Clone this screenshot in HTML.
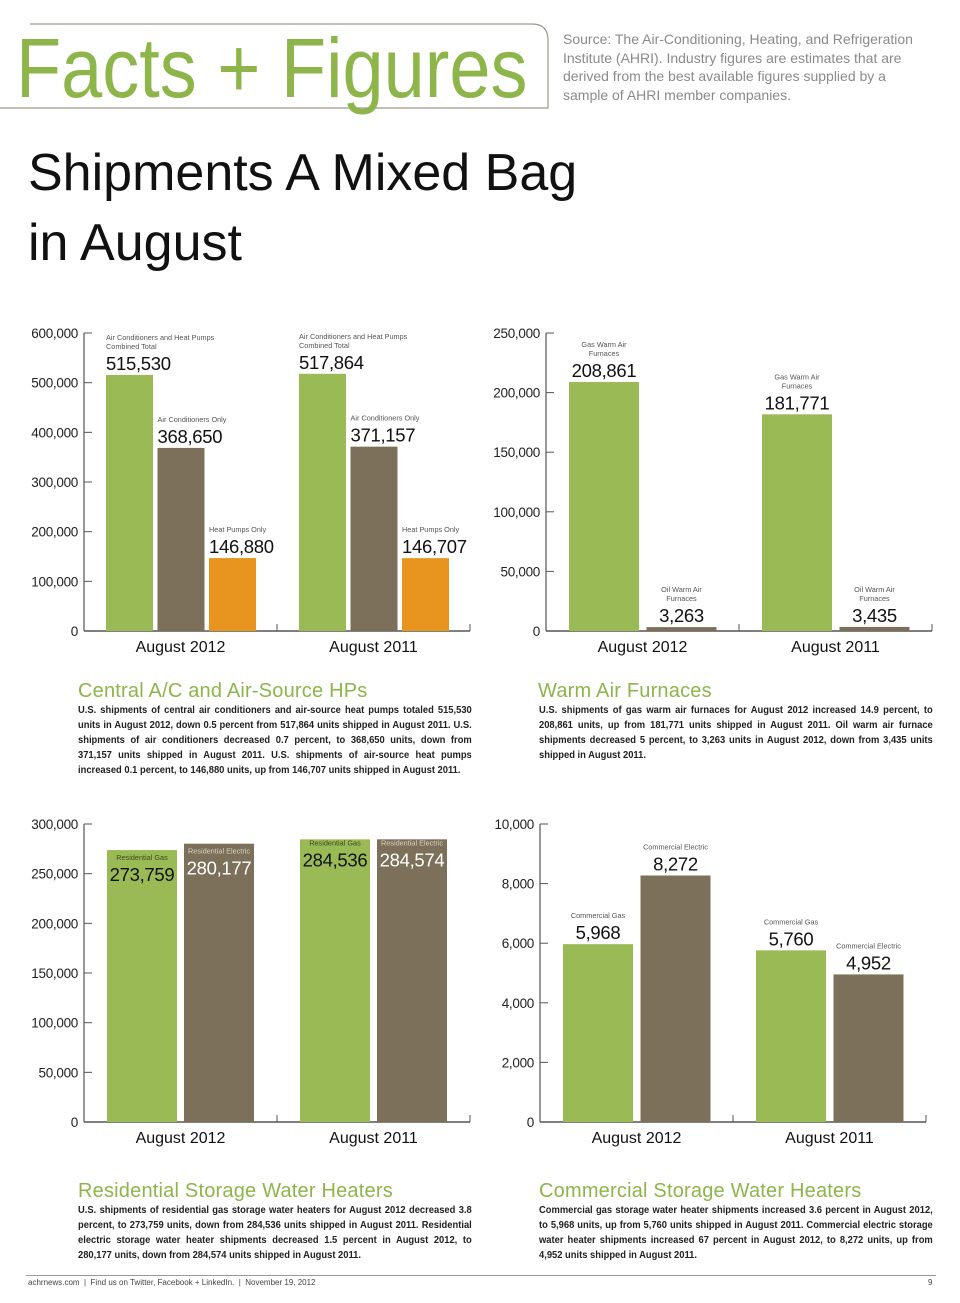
<!DOCTYPE html>
<html><head><meta charset="utf-8">
<style>
body{margin:0;background:#fff;}
#page{position:relative;width:960px;height:1303px;overflow:hidden;background:#fff;font-family:"Liberation Sans",sans-serif;}
.abs{position:absolute;}
.sec-title{position:absolute;color:#8db54a;font-size:20px;letter-spacing:0.2px;}
.body{position:absolute;font-size:10.2px;line-height:15px;color:#222;text-align:justify;font-weight:bold;transform:scaleX(0.92);transform-origin:left top;}
</style></head>
<body>
<div id="page">
  <svg class="abs" style="left:0;top:0" width="560" height="120">
    <path d="M30 24 H532 Q548 24 548 40 V108 H0" fill="none" stroke="#9a9a8a" stroke-width="1.2"/>
  </svg>
  <div class="abs" style="left:16px;top:18px;font-size:84px;color:#8db54a;letter-spacing:0px;line-height:100px;transform:scaleX(0.88);transform-origin:left top;white-space:nowrap;">Facts + Figures</div>
  <div class="abs" style="left:563px;top:30px;width:366px;font-size:14px;line-height:18.5px;color:#8a8a8a;">Source: The Air-Conditioning, Heating, and Refrigeration Institute (AHRI). Industry figures are estimates that are derived from the best available figures supplied by a sample of AHRI member companies.</div>
  <div class="abs" style="left:28px;top:138px;font-size:52px;line-height:70px;color:#111;">Shipments A Mixed Bag<br>in August</div>

  <svg id="charts" class="abs" style="left:0;top:0" width="960" height="1303"></svg>

  <div class="sec-title" style="left:78px;top:680px;">Central A/C and Air-Source HPs</div>
  <div class="body" style="left:78px;top:703px;width:428px;">U.S. shipments of central air conditioners and air-source heat pumps totaled 515,530 units in August 2012, down 0.5 percent from 517,864 units shipped in August 2011. U.S. shipments of air conditioners decreased 0.7 percent, to 368,650 units, down from 371,157 units shipped in August 2011. U.S. shipments of air-source heat pumps increased 0.1 percent, to 146,880 units, up from 146,707 units shipped in August 2011.</div>

  <div class="sec-title" style="left:538px;top:680px;">Warm Air Furnaces</div>
  <div class="body" style="left:539px;top:703px;width:428px;">U.S. shipments of gas warm air furnaces for August 2012 increased 14.9 percent, to 208,861 units, up from 181,771 units shipped in August 2011. Oil warm air furnace shipments decreased 5 percent, to 3,263 units in August 2012, down from 3,435 units shipped in August 2011.</div>

  <div class="sec-title" style="left:78px;top:1180px;">Residential Storage Water Heaters</div>
  <div class="body" style="left:78px;top:1203px;width:428px;">U.S. shipments of residential gas storage water heaters for August 2012 decreased 3.8 percent, to 273,759 units, down from 284,536 units shipped in August 2011. Residen­tial electric storage water heater shipments decreased 1.5 percent in August 2012, to 280,177 units, down from 284,574 units shipped in August 2011.</div>

  <div class="sec-title" style="left:539px;top:1180px;">Commercial Storage Water Heaters</div>
  <div class="body" style="left:539px;top:1203px;width:428px;">Commercial gas storage water heater shipments increased 3.6 percent in August 2012, to 5,968 units, up from 5,760 units shipped in August 2011. Commercial electric storage water heater shipments increased 67 percent in August 2012, to 8,272 units, up from 4,952 units shipped in August 2011.</div>

  <div class="abs" style="left:26px;top:1275px;width:910px;height:1px;background:#999;"></div>
  <div class="abs" style="left:28px;top:1278px;font-size:8px;color:#444;">achrnews.com &nbsp;|&nbsp; Find us on Twitter, Facebook + LinkedIn. &nbsp;|&nbsp; November 19, 2012</div>
  <div class="abs" style="left:928px;top:1278px;font-size:8px;color:#444;">9</div>
</div>
<script>
const categories = ["August 2012", "August 2011"];
const acLabels = ["Air Conditioners and Heat Pumps|Combined Total", "Air Conditioners Only", "Heat Pumps Only"];
const acValues2012 = [515530, 368650, 146880];
const acValues2011 = [517864, 371157, 146707];
const acTicks = [0, 100000, 200000, 300000, 400000, 500000, 600000];

const furnLabels = ["Gas Warm Air|Furnaces", "Oil Warm Air|Furnaces"];
const furnValues2012 = [208861, 3263];
const furnValues2011 = [181771, 3435];
const furnTicks = [0, 50000, 100000, 150000, 200000, 250000];

const resLabels = ["Residential Gas", "Residential Electric"];
const resValues2012 = [273759, 280177];
const resValues2011 = [284536, 284574];
const resTicks = [0, 50000, 100000, 150000, 200000, 250000, 300000];

const comLabels = ["Commercial Gas", "Commercial Electric"];
const comValues2012 = [5968, 8272];
const comValues2011 = [5760, 4952];
const comTicks = [0, 2000, 4000, 6000, 8000, 10000];

const svg = document.getElementById('charts');
const NS = 'http://www.w3.org/2000/svg';
function mk(tag, attrs, text){
  const e = document.createElementNS(NS, tag);
  for (const k in attrs) e.setAttribute(k, attrs[k]);
  if (text !== undefined) e.textContent = text;
  svg.appendChild(e);
  return e;
}
const fmt = v => v.toLocaleString('en-US');
const COLORS = ['#9aba55', '#7c705a', '#e8951f'];

function drawChart(c){
  const y = v => c.y0 - (v / c.max) * (c.y0 - c.yTop);
  let e = mk('line', {x1:c.ax, y1:c.yTop, x2:c.ax, y2:c.y0, stroke:'#555', 'stroke-width':1.2});
  
  
  e = mk('line', {x1:c.ax, y1:c.y0, x2:c.xEnd, y2:c.y0, stroke:'#555', 'stroke-width':1.5});
  
  
  const mid = (c.ax + c.xEnd) / 2;
  [mid, c.xEnd].forEach(xx => {
    const t = mk('line', {x1:xx, y1:c.y0 - 7, x2:xx, y2:c.y0, stroke:'#555', 'stroke-width':1});
    
    
  });
  c.ticks.forEach(t => {
    const ln = mk('line', {x1:c.ax, y1:y(t), x2:c.ax + 8, y2:y(t), stroke:'#555', 'stroke-width':1});
    
    
    const tx = mk('text', {x:c.ax - 6, y:y(t) + 5, 'text-anchor':'end', 'font-size':13.5, fill:'#222', 'letter-spacing':'-0.3'}, fmt(t));
    
    
  });
  const groupW = (c.xEnd - c.ax) / 2;
  [c.v2012, c.v2011].forEach((vals, gi) => {
    const gx = c.ax + gi * groupW + c.pad;
    vals.forEach((v, i) => {
      const x = gx + i * (c.bw + c.gap);
      const top = y(v);
      const r = mk('rect', {x:x, y:top, width:c.bw, height:c.y0 - top, fill:COLORS[i]});
      
      
      const lines = c.labels[i].split('|');
      let anchor = c.align === 'left' ? 'start' : 'middle';
      let lx = c.align === 'left' ? x : x + c.bw / 2;
      let valY, labFill = '#555', valFill = '#111';
      if (c.inside) {
        valY = top + 31; labFill = i === 0 ? '#3d4a1f' : '#d8d2c4'; valFill = i === 0 ? '#111' : '#fff';
        if (c.name === 'res' && gi === 1) valY = top + 27;
      } else valY = top - 5;
      const vt = mk('text', {x:lx, y:valY, 'text-anchor':anchor, 'font-size':18.5, fill:valFill, 'letter-spacing':'-0.3'}, fmt(v));
      
      
      const labBase = valY - 21;
      lines.forEach((ln, li) => {
        const lt = mk('text', {x:lx, y:labBase - (lines.length - 1 - li) * 9, 'text-anchor':anchor, 'font-size':7.3, fill:labFill}, ln);
        
        
      });
    });
    const ct = mk('text', {x:c.ax + gi * groupW + groupW / 2, y:c.y0 + 21, 'text-anchor':'middle', 'font-size':16, fill:'#111'}, categories[gi]);
    
    
  });
}

drawChart({name:'ac', ax:84, xEnd:470, yTop:333, y0:631, max:600000, ticks:acTicks, v2012:acValues2012, v2011:acValues2011, labels:acLabels, bw:47, gap:4.5, pad:22, align:'left'});
drawChart({name:'furn', ax:546, xEnd:932, yTop:333, y0:631, max:250000, ticks:furnTicks, v2012:furnValues2012, v2011:furnValues2011, labels:furnLabels, bw:70, gap:7.5, pad:23, align:'center'});
drawChart({name:'res', ax:84, xEnd:470, yTop:824, y0:1122, max:300000, ticks:resTicks, v2012:resValues2012, v2011:resValues2011, labels:resLabels, bw:70, gap:7, pad:23, align:'center', inside:true});
drawChart({name:'com', ax:540, xEnd:926, yTop:824, y0:1122, max:10000, ticks:comTicks, v2012:comValues2012, v2011:comValues2011, labels:comLabels, bw:70, gap:7.5, pad:23, align:'center'});
</script>
</body></html>
